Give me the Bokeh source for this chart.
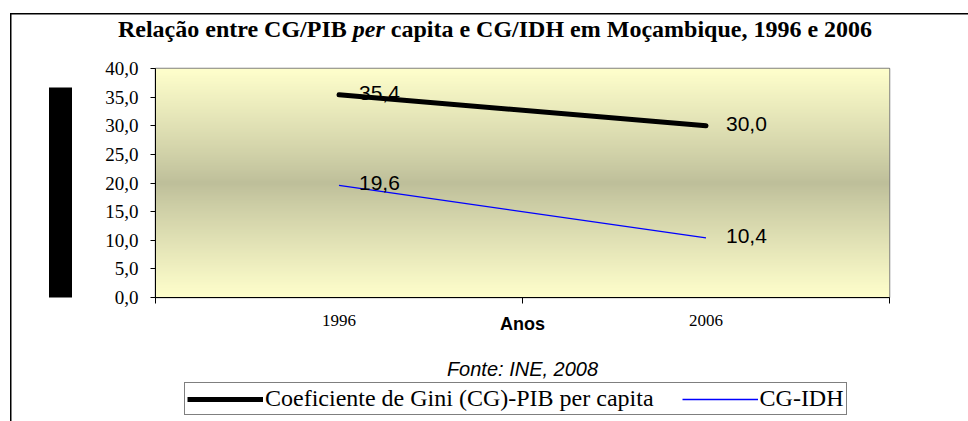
import numpy as np
from bokeh.plotting import figure
from bokeh.layouts import column
from bokeh.models import (ColumnDataSource, Range1d, FixedTicker, Legend, LegendItem,
                          LinearAxis, Label)
from bokeh.core.properties import value
from bokeh.embed import file_html
from bokeh.resources import INLINE

# ---- data ----
years = ["1996", "2006"]
gini_pib = [35.4, 30.0]
gini_idh = [19.6, 10.4]
y_ticks = [0, 5, 10, 15, 20, 25, 30, 35, 40]
series_names = ["Coeficiente de Gini (CG)-PIB per capita", "CG-IDH"]
title_parts = ["Relação entre CG/PIB", "per", "capita e CG/IDH em Moçambique, 1996 e 2006"]
x_title = "Anos"
source_note = "Fonte: INE, 2008"

SERIF = "Liberation Serif"
SANS = "Liberation Sans"
PIB_COLOR, IDH_COLOR = "black", "#0000FF"
PIB_W, IDH_W = 5, 1.3

def fmt(v):
    return f"{v:.1f}".replace(".", ",")

n = len(years)
xs = [i + 0.5 for i in range(n)]
y_min, y_max = y_ticks[0], y_ticks[-1]

W = 968
TOP_H, LEG_H = 56, 76
ML, MR, MT, MB = 155, 79, 12, 48
FW, FH = W - ML - MR, 229


def blank_fig(h):
    f = figure(width=W, height=h, output_backend="svg", toolbar_location=None,
               x_range=Range1d(0, W), y_range=Range1d(0, h),
               x_axis_location=None, y_axis_location=None,
               min_border_left=0, min_border_right=0, min_border_top=0,
               min_border_bottom=0, title=None, frame_align=False)
    f.background_fill_alpha = 0
    f.border_fill_alpha = 0
    f.outline_line_color = None
    f.grid.visible = False
    return f


# ---------------- title strip ----------------
pt = blank_fig(TOP_H)
TFS = 24
em = TFS / 1000.0
title_left = 117
part1_right = title_left + 9554 * em
per_left = part1_right + 250 * em
part3_left = per_left + 1333 * em + 250 * em
TMID = TOP_H - 28.5
for txt, x, al, st in [(title_parts[0], part1_right, "right", "bold"),
                       (title_parts[1], per_left, "left", "bold italic"),
                       (title_parts[2], part3_left, "left", "bold")]:
    pt.add_layout(Label(x=x, y=TMID, text=txt, text_font=SERIF, text_font_style=st,
                        text_font_size=f"{TFS}px", text_align=al,
                        text_baseline="middle", text_color="black"))

# ---------------- main chart ----------------
p = figure(frame_width=FW, frame_height=FH, output_backend="svg", toolbar_location=None,
           x_range=Range1d(0, n), y_range=Range1d(y_min, y_max),
           min_border_left=ML, min_border_right=MR, min_border_top=MT,
           min_border_bottom=MB, title=None, frame_align=False)
p.background_fill_color = "white"
p.border_fill_alpha = 0
p.outline_line_color = "#808080"
p.outline_line_width = 1.5
p.grid.visible = False

# gradient background of the plot area
N = 200
vals = np.linspace(y_min, y_max, N)
t = np.abs(vals - (y_min + y_max) / 2) / ((y_max - y_min) / 2)
t = t ** 0.9
edge = np.array([255, 255, 204])
mid = np.array([190, 191, 154])
cols = (mid[None, :] + (edge - mid)[None, :] * t[:, None]).astype(np.uint8)
rgba = np.zeros((N, 1, 4), dtype=np.uint8)
rgba[:, 0, :3] = cols
rgba[:, 0, 3] = 255
img = rgba.view(dtype=np.uint32).reshape((N, 1))
p.image_rgba(image=[img], x=0, y=y_min, dw=n, dh=y_max - y_min)

src1 = ColumnDataSource(dict(x=xs, y=gini_pib, lab=[fmt(v) for v in gini_pib]))
src2 = ColumnDataSource(dict(x=xs, y=gini_idh, lab=[fmt(v) for v in gini_idh]))
p.line("x", "y", source=src1, line_color=PIB_COLOR, line_width=PIB_W, line_cap="round")
p.line("x", "y", source=src2, line_color=IDH_COLOR, line_width=IDH_W)
for s in (src1, src2):
    p.text("x", "y", text="lab", source=s, x_offset=20, y_offset=-2,
           text_font=value(SANS), text_font_size="21px", text_color="black",
           text_align="left", text_baseline="middle")

yax = p.yaxis[0]
yax.ticker = FixedTicker(ticks=y_ticks)
yax.major_label_overrides = {v: fmt(v) for v in y_ticks}
yax.major_label_text_font = SERIF
yax.major_label_text_font_size = "19px"
yax.major_label_text_color = "black"
yax.major_tick_out = 5
yax.major_tick_in = 0
yax.minor_tick_line_color = None
yax.axis_line_color = "black"
yax.major_tick_line_color = "black"
yax.major_label_standoff = 12
yax.axis_label = " "
yax.axis_label_text_font_size = "16px"
yax.axis_label_standoff = 22

# black block left of the y axis (axis-title area in the original)
blk = LinearAxis(ticker=FixedTicker(ticks=[]), bounds=(y_min, 36.7),
                 axis_line_color="black", axis_line_width=23,
                 major_tick_line_color=None, minor_tick_line_color=None,
                 major_label_text_font_size="0px", major_label_standoff=0)
p.add_layout(blk, "left")

xax = p.xaxis[0]
xax.ticker = FixedTicker(ticks=xs, minor_ticks=list(range(n + 1)))
xax.major_label_overrides = {x: y for x, y in zip(xs, years)}
xax.major_label_text_font = SERIF
xax.major_label_text_font_size = "17px"
xax.major_label_text_color = "black"
xax.major_tick_line_color = None
xax.major_tick_out = 0
xax.major_tick_in = 0
xax.minor_tick_out = 6
xax.minor_tick_in = 0
xax.minor_tick_line_color = "black"
xax.axis_line_color = "black"
xax.major_label_standoff = 11
xax.axis_label = x_title
xax.axis_label_text_font = SANS
xax.axis_label_text_font_style = "bold"
xax.axis_label_text_font_size = "18px"
xax.axis_label_text_color = "black"
xax.axis_label_standoff = -15

# ---------------- source note + legend strip ----------------
pl = blank_fig(LEG_H)
pl.add_layout(Label(x=522, y=LEG_H - 23, text=source_note, text_font=SANS,
                    text_font_style="italic", text_font_size="20px", text_align="center",
                    text_baseline="middle", text_color="black"))
# legend keys: renderers carrying only the series styles (no visible points)
key_src = ColumnDataSource(dict(x=[np.nan], y=[np.nan]))
k1 = pl.line("x", "y", source=key_src, line_color=PIB_COLOR, line_width=PIB_W)
k2 = pl.line("x", "y", source=key_src, line_color=IDH_COLOR, line_width=IDH_W)
legend = Legend(items=[LegendItem(label=series_names[0], renderers=[k1]),
                       LegendItem(label=series_names[1], renderers=[k2])],
                orientation="horizontal", location=(184, 6),
                label_text_font=SERIF, label_text_font_size="24px",
                label_text_color="black", glyph_width=76, glyph_height=20,
                label_height=20, label_standoff=2, spacing=28, padding=2, margin=0,
                border_line_color="black", border_line_width=1,
                background_fill_color="white", background_fill_alpha=1)
pl.add_layout(legend, "center")

layout = column(pt, p, pl, spacing=0,
                styles={"background-color": "white",
                        "box-shadow": "inset 10px 0 0 0 white, inset 0 13px 0 0 white, "
                                      "inset 11.5px 0 0 0 black, inset 0 14.5px 0 0 black"})

open("out.html", "w").write(file_html(layout, INLINE))
